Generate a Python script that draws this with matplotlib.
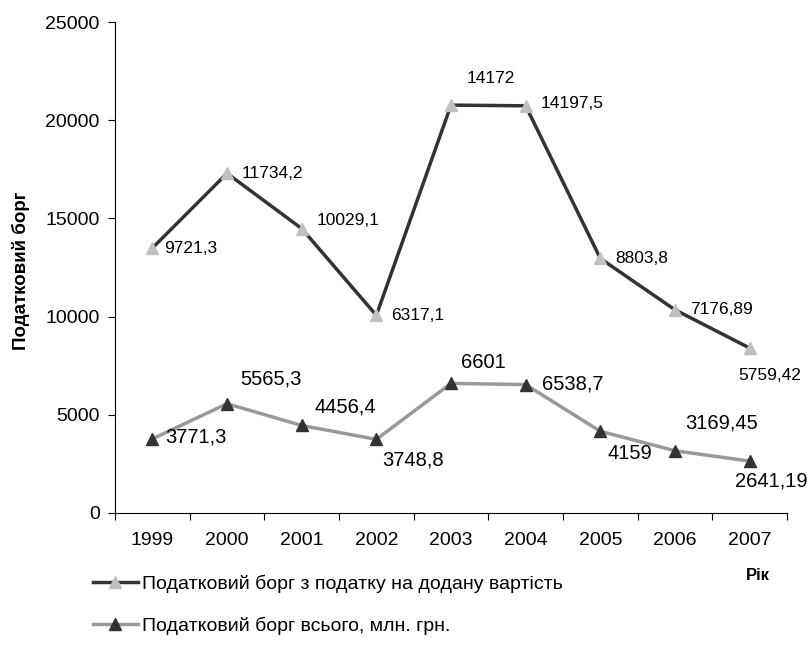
import matplotlib
matplotlib.use("Agg")
import matplotlib.pyplot as plt
from matplotlib.lines import Line2D

plt.rcParams['font.family'] = ['Liberation Sans', 'DejaVu Sans']

years = ['1999', '2000', '2001', '2002', '2003', '2004', '2005', '2006', '2007']
vat_debt = [9721.3, 11734.2, 10029.1, 6317.1, 14172, 14197.5, 8803.8, 7176.89, 5759.42]
total_debt = [3771.3, 5565.3, 4456.4, 3748.8, 6601, 6538.7, 4159, 3169.45, 2641.19]
vat_labels = ['9721,3', '11734,2', '10029,1', '6317,1', '14172', '14197,5', '8803,8', '7176,89', '5759,42']
total_labels = ['3771,3', '5565,3', '4456,4', '3748,8', '6601', '6538,7', '4159', '3169,45', '2641,19']

# stacked line chart: top line = vat + total
stacked = [v + t for v, t in zip(vat_debt, total_debt)]
x = list(range(len(years)))

fig = plt.figure(figsize=(8.1, 6.5), dpi=100)
ax = fig.add_axes([0.142, 0.2108, 0.8296, 0.7552])

dark = '#333333'
grey = '#999999'
ax.plot(x, total_debt, color=grey, lw=2.5, marker='^', ms=8, mfc=dark, mec=dark, zorder=3)
ax.plot(x, stacked, color=dark, lw=2.5, marker='^', ms=8, mfc='#c0c0c0', mec='#c0c0c0', zorder=3)

# label offsets in pixels (dx, dy, ha)
vat_off = [(12, 0, 'left'), (15, 0, 'left'), (15, 8, 'left'), (15, 0, 'left'), (40, 27, 'center'),
           (15, 2, 'left'), (15, 0, 'left'), (15, 0, 'left'), (20, -27, 'center')]
tot_off = [(13, 2, 'left'), (13, 25, 'left'), (13, 18, 'left'), (6, -21, 'left'), (10, 21, 'left'),
           (16, 1, 'left'), (7, -22, 'left'), (10, 28, 'left'), (22, -20, 'center')]

for i in x:
    dx, dy, ha = vat_off[i]
    ax.annotate(vat_labels[i], (i, stacked[i]), xytext=(dx, dy), textcoords='offset pixels',
                ha=ha, va='center', fontsize=12.5)
    dx, dy, ha = tot_off[i]
    ax.annotate(total_labels[i], (i, total_debt[i]), xytext=(dx, dy), textcoords='offset pixels',
                ha=ha, va='center', fontsize=14.5)

ax.set_xlim(-0.5, len(years) - 0.5)
ax.set_ylim(0, 25000)
ax.set_yticks(range(0, 25001, 5000))
ax.set_xticks([i - 0.5 for i in range(len(years) + 1)])
ax.set_xticklabels([])
ax.set_xticks(x, minor=True)
ax.set_xticklabels(years, minor=True)
ax.tick_params(axis='x', which='minor', length=0, pad=14, labelsize=14)
ax.tick_params(axis='x', which='major', length=5, direction='out')
ax.tick_params(axis='y', length=5, labelsize=14, pad=6)
for s in ['top', 'right']:
    ax.spines[s].set_visible(False)

fig.text(0.026, 0.583, 'Податковий борг', rotation=90, ha='center', va='center',
         fontsize=13.5, fontweight='bold')
fig.text(0.935, 0.114, 'Рік', ha='center', va='center', fontsize=12, fontweight='bold')

handles = [Line2D([], [], color=dark, lw=2.5, marker='^', ms=8, mfc='#c0c0c0', mec='#c0c0c0'),
           Line2D([], [], color=grey, lw=2.5, marker='^', ms=8, mfc=dark, mec=dark)]
fig.legend(handles, ['Податковий борг з податку на додану вартість',
                     'Податковий борг всього, млн. грн.'],
           loc='upper left', bbox_to_anchor=(0.105, 0.128), frameon=False, fontsize=14,
           labelspacing=1.2, handlelength=2.3, handletextpad=0.25, borderaxespad=0)

fig.savefig('out.png', dpi=100)
